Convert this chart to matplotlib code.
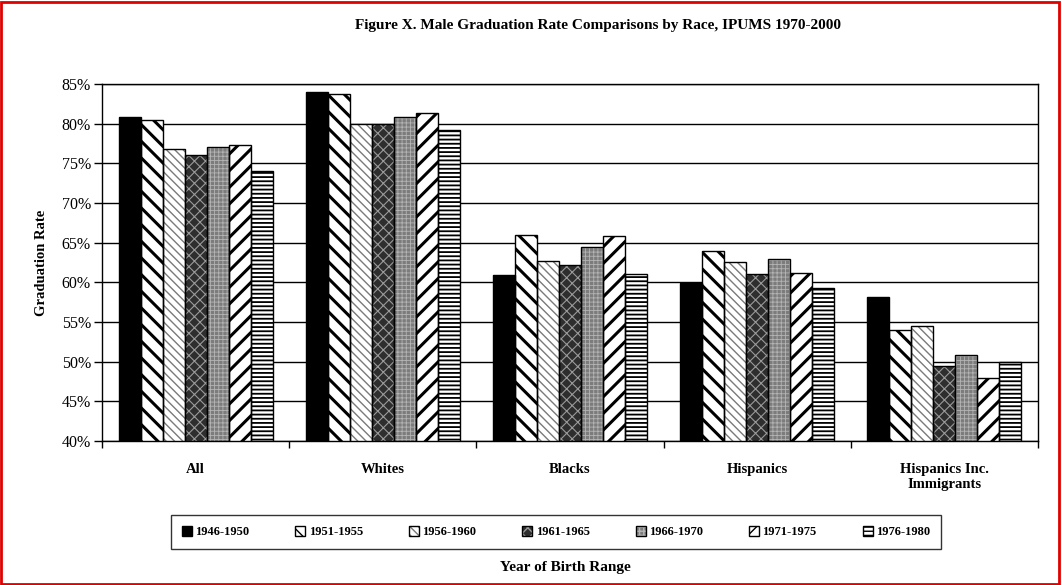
import matplotlib

matplotlib.use("Agg")
import matplotlib.pyplot as plt
from matplotlib.patches import Patch, Rectangle
import numpy as np

plt.rcParams["font.family"] = ["Liberation Serif", "DejaVu Serif"]

CATEGORIES = ["All", "Whites", "Blacks", "Hispanics", "Hispanics Inc.\nImmigrants"]
COHORTS = ["1946-1950", "1951-1955", "1956-1960", "1961-1965",
           "1966-1970", "1971-1975", "1976-1980"]

# graduation rate (%) per cohort, one value per category
R_1946 = [80.8, 84.0, 60.9, 59.9, 58.1]
R_1951 = [80.5, 83.7, 66.0, 63.9, 54.0]
R_1956 = [76.8, 80.0, 62.7, 62.6, 54.5]
R_1961 = [76.1, 80.0, 62.2, 61.0, 49.4]
R_1966 = [77.0, 80.8, 64.5, 62.9, 50.9]
R_1971 = [77.3, 81.4, 65.8, 61.2, 48.0]
R_1976 = [74.0, 79.2, 61.0, 59.3, 49.9]
SERIES = [R_1946, R_1951, R_1956, R_1961, R_1966, R_1971, R_1976]

YTICKS = [40, 45, 50, 55, 60, 65, 70, 75, 80, 85]

# face, hatch, hatch colour, hatch linewidth
STYLES = [
    ("black", "", "black", 1.0),
    ("white", "\\\\", "black", 2.2),
    ("white", "\\\\\\\\", "#7a7a7a", 1.0),
    ("#2e2e2e", "xxx", "#9a9a9a", 0.8),
    ("#7c7c7c", "++++", "#b4b4b4", 0.6),
    ("white", "//", "black", 2.2),
    ("white", "----", "black", 1.3),
]


def bar_layer(ax, x, h, width, face, hatch, hcolor, hlw):
    try:
        bars = ax.bar(x, h, width, bottom=40, facecolor=face, hatch=hatch,
                      edgecolor=hcolor, linewidth=0, hatch_linewidth=hlw,
                      zorder=3)
    except (AttributeError, TypeError):
        with plt.rc_context({"hatch.linewidth": hlw}):
            bars = ax.bar(x, h, width, bottom=40, facecolor=face, hatch=hatch,
                          edgecolor=hcolor, linewidth=0, zorder=3)
    ax.bar(x, h, width, bottom=40, facecolor="none", edgecolor="black",
           linewidth=1.0, zorder=4)
    return bars


def main() -> None:
    fig = plt.figure(figsize=(10.62, 5.85), dpi=100)
    ax = fig.add_axes([102 / 1062, 1 - 441 / 585, 936 / 1062, 357 / 585])

    n = len(SERIES)
    width = 0.1175
    xs = np.arange(len(CATEGORIES))
    handles = []
    for i, (vals, (face, hatch, hcol, hlw)) in enumerate(zip(SERIES, STYLES)):
        pos = xs + (i - (n - 1) / 2) * width
        heights = np.array(vals) - 40
        bar_layer(ax, pos, heights, width, face, hatch, hcol, hlw)
        try:
            p1 = Patch(facecolor=face, hatch=hatch, edgecolor=hcol, linewidth=0,
                       hatch_linewidth=min(hlw, 1.2))
        except (AttributeError, TypeError):
            p1 = Patch(facecolor=face, hatch=hatch, edgecolor=hcol, linewidth=0)
        p2 = Patch(facecolor="none", edgecolor="black", linewidth=1.0)
        handles.append((p1, p2))

    ax.set_xlim(-0.5, len(CATEGORIES) - 0.5)
    ax.set_ylim(40, 85)
    ax.set_yticks(YTICKS)
    ax.set_yticklabels([f"{v}%" for v in YTICKS], fontsize=11.5)
    ax.yaxis.grid(True, color="black", linewidth=1.0, zorder=0)
    ax.set_axisbelow(True)

    ax.set_xticks(xs)
    ax.set_xticklabels(CATEGORIES, fontsize=10.5, fontweight="bold")
    ax.tick_params(axis="x", length=0, pad=16)
    ax.set_xticks(np.arange(len(CATEGORIES) + 1) - 0.5, minor=True)
    ax.tick_params(axis="x", which="minor", length=5, direction="out", width=1)
    ax.tick_params(axis="y", length=6, direction="out", width=1, pad=2)
    for s in ax.spines.values():
        s.set_linewidth(1.0)

    ax.set_ylabel("Graduation Rate", fontsize=10.5, fontweight="bold", labelpad=10)

    fig.text(598 / 1062, 1 - 25 / 585,
             "Figure X. Male Graduation Rate Comparisons by Race, IPUMS 1970-2000",
             ha="center", va="center", fontsize=11, fontweight="bold")
    fig.text(565 / 1062, 1 - 568 / 585, "Year of Birth Range",
             ha="center", va="center", fontsize=11, fontweight="bold")

    leg = fig.legend(handles, COHORTS, loc="center",
                     bbox_to_anchor=(556 / 1062, 1 - 532 / 585),
                     ncol=7, frameon=True, fancybox=False,
                     handlelength=0.8, handleheight=0.8, handletextpad=0.25,
                     columnspacing=3.7, borderpad=0.9,
                     prop={"weight": "bold", "size": 9})
    leg.get_frame().set_edgecolor("black")
    leg.get_frame().set_linewidth(1.0)

    fig.patches.append(Rectangle((0.001, 0.002), 0.996, 0.995,
                                 transform=fig.transFigure, fill=False,
                                 edgecolor="#e00000", linewidth=2.0))

    fig.savefig("out.png", dpi=100)


if __name__ == "__main__":
    main()
